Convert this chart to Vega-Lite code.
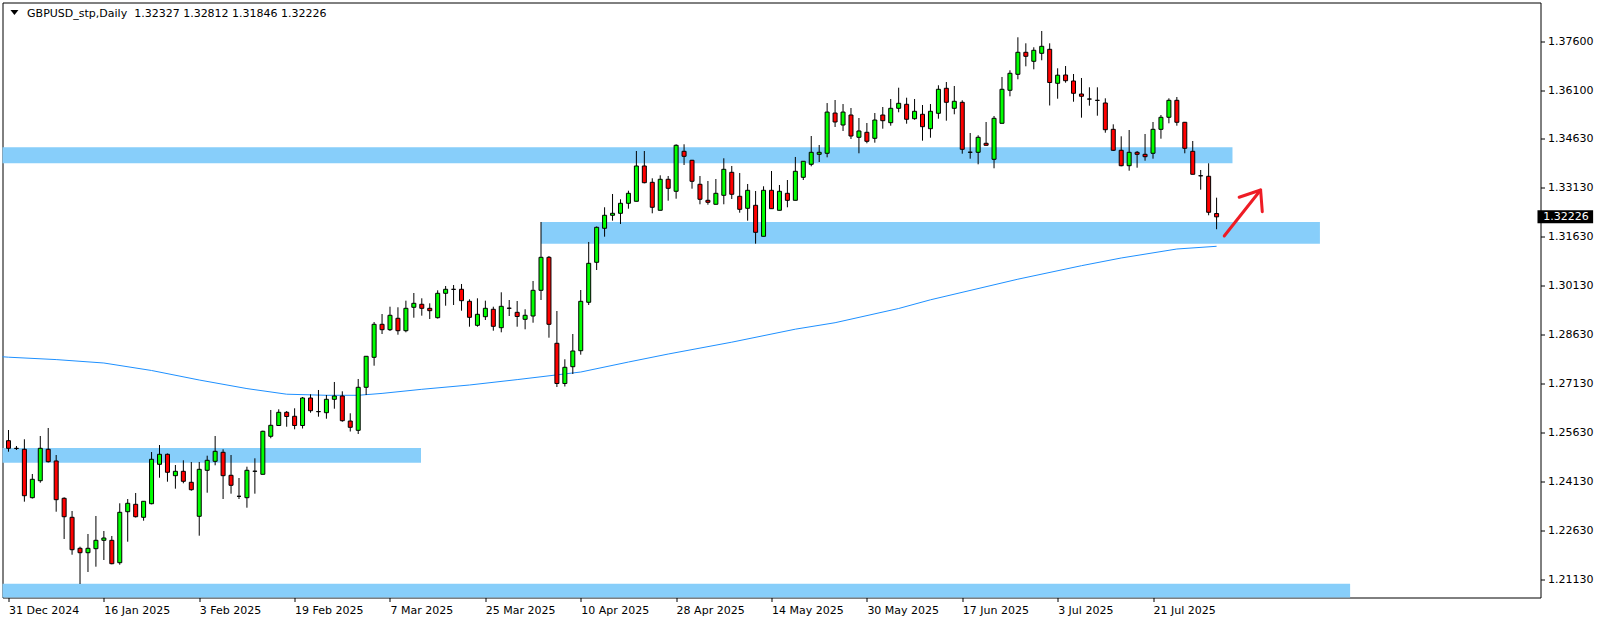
{
"$schema":"https://vega.github.io/schema/vega-lite/v6.json",
"width":1538,"height":595,
"autosize":{"type":"none"},
"padding":{"left":2.5,"top":2.5,"right":63.5,"bottom":24.5},
"background":"white",
"config":{"view":{"stroke":"#000","strokeWidth":1},"axis":{"domain":false,"grid":false,"tickColor":"#000","tickSize":4,"labelFont":"DejaVu Sans","labelFontSize":11,"labelColor":"#000","title":null}},
"datasets":{
"header":[{"t":"GBPUSD_stp,Daily\u00a0 1.32327 1.32812 1.31846 1.32226"}],
"zones":[
{"name":"resistance","i0":-1,"i1":154.0,"p0":1.34354,"p1":1.33865},
{"name":"support","i0":67,"i1":165,"p0":1.32068,"p1":1.31404},
{"name":"old range","i0":-1,"i1":51.9,"p0":1.25149,"p1":1.24699},
{"name":"low","i0":-1,"i1":168.8,"p0":1.20995,"p1":1.2040}
],
"ma":[
{"i":-1,"v":1.27947},{"i":0,"v":1.27929},{"i":6,"v":1.27856},{"i":12,"v":1.27751},{"i":18,"v":1.27522},{"i":24,"v":1.27231},{"i":30,"v":1.26968},{"i":35,"v":1.26796},{"i":40,"v":1.26763},{"i":44,"v":1.26763},{"i":47,"v":1.26821},{"i":52,"v":1.26946},{"i":58,"v":1.27078},{"i":64,"v":1.27243},{"i":72,"v":1.27475},{"i":78,"v":1.27781},{"i":83,"v":1.28026},{"i":91,"v":1.28389},{"i":99,"v":1.28787},{"i":104,"v":1.28985},{"i":112,"v":1.29420},{"i":116,"v":1.29686},{"i":127,"v":1.30317},{"i":135,"v":1.30730},{"i":140,"v":1.30966},{"i":147,"v":1.31241},{"i":152,"v":1.31324}
],
"arrow":[
{"seg":"shaft","k":0,"i":152.96,"p":1.31639},{"seg":"shaft","k":1,"i":157.54,"p":1.33047},
{"seg":"head","k":0,"i":154.84,"p":1.32824},{"seg":"head","k":1,"i":157.54,"p":1.33047},{"seg":"head","k":2,"i":157.75,"p":1.32383}
],
"bars":[
{"i":0,"d":"2024-12-31","o":1.25373,"h":1.25700,"l":1.25036,"c":1.25140},
{"i":1,"d":"2025-01-01","o":1.25140,"h":1.25211,"l":1.25088,"c":1.25135},
{"i":2,"d":"2025-01-02","o":1.25110,"h":1.25416,"l":1.23506,"c":1.23689},
{"i":3,"d":"2025-01-03","o":1.23628,"h":1.24354,"l":1.23604,"c":1.24191},
{"i":4,"d":"2025-01-06","o":1.24148,"h":1.25517,"l":1.24087,"c":1.25140},
{"i":5,"d":"2025-01-07","o":1.25110,"h":1.25762,"l":1.24706,"c":1.24730},
{"i":6,"d":"2025-01-08","o":1.24752,"h":1.24935,"l":1.23199,"c":1.23567},
{"i":7,"d":"2025-01-09","o":1.23610,"h":1.23640,"l":1.22364,"c":1.23046},
{"i":8,"d":"2025-01-10","o":1.23028,"h":1.23221,"l":1.21883,"c":1.22036},
{"i":9,"d":"2025-01-13","o":1.22079,"h":1.22128,"l":1.20986,"c":1.21944},
{"i":10,"d":"2025-01-14","o":1.21944,"h":1.22517,"l":1.21354,"c":1.22079},
{"i":11,"d":"2025-01-15","o":1.22067,"h":1.23068,"l":1.21516,"c":1.22324},
{"i":12,"d":"2025-01-16","o":1.22324,"h":1.22609,"l":1.21721,"c":1.22394},
{"i":13,"d":"2025-01-17","o":1.22324,"h":1.22456,"l":1.21589,"c":1.21608},
{"i":14,"d":"2025-01-20","o":1.21638,"h":1.23457,"l":1.21577,"c":1.23181},
{"i":15,"d":"2025-01-21","o":1.23199,"h":1.23588,"l":1.22281,"c":1.23457},
{"i":16,"d":"2025-01-22","o":1.23426,"h":1.23772,"l":1.23022,"c":1.23046},
{"i":17,"d":"2025-01-23","o":1.23028,"h":1.23527,"l":1.22924,"c":1.23518},
{"i":18,"d":"2025-01-24","o":1.23444,"h":1.25027,"l":1.23426,"c":1.24804},
{"i":19,"d":"2025-01-27","o":1.24650,"h":1.25241,"l":1.24240,"c":1.24957},
{"i":20,"d":"2025-01-28","o":1.24957,"h":1.24981,"l":1.24118,"c":1.24406},
{"i":21,"d":"2025-01-29","o":1.24302,"h":1.24629,"l":1.23904,"c":1.24436},
{"i":22,"d":"2025-01-30","o":1.24436,"h":1.24773,"l":1.24069,"c":1.24130},
{"i":23,"d":"2025-01-31","o":1.24100,"h":1.24721,"l":1.23842,"c":1.23873},
{"i":24,"d":"2025-02-03","o":1.23059,"h":1.24721,"l":1.22465,"c":1.24497},
{"i":25,"d":"2025-02-04","o":1.24467,"h":1.24914,"l":1.23781,"c":1.24773},
{"i":26,"d":"2025-02-05","o":1.24742,"h":1.25517,"l":1.24620,"c":1.25048},
{"i":27,"d":"2025-02-06","o":1.25018,"h":1.25110,"l":1.23588,"c":1.24302},
{"i":28,"d":"2025-02-07","o":1.24314,"h":1.24935,"l":1.23751,"c":1.24008},
{"i":29,"d":"2025-02-10","o":1.23671,"h":1.24231,"l":1.23588,"c":1.23671},
{"i":30,"d":"2025-02-11","o":1.23628,"h":1.24577,"l":1.23322,"c":1.24467},
{"i":31,"d":"2025-02-12","o":1.24436,"h":1.24834,"l":1.23751,"c":1.24440},
{"i":32,"d":"2025-02-13","o":1.24344,"h":1.25679,"l":1.24344,"c":1.25661},
{"i":33,"d":"2025-02-14","o":1.25508,"h":1.26313,"l":1.25447,"c":1.25844},
{"i":34,"d":"2025-02-17","o":1.25838,"h":1.26334,"l":1.25823,"c":1.26242},
{"i":35,"d":"2025-02-18","o":1.26242,"h":1.26282,"l":1.25801,"c":1.26114},
{"i":36,"d":"2025-02-19","o":1.26120,"h":1.26365,"l":1.25722,"c":1.25838},
{"i":37,"d":"2025-02-20","o":1.25838,"h":1.26711,"l":1.25746,"c":1.26680},
{"i":38,"d":"2025-02-21","o":1.26680,"h":1.26793,"l":1.26230,"c":1.26291},
{"i":39,"d":"2025-02-24","o":1.26261,"h":1.26925,"l":1.26108,"c":1.26265},
{"i":40,"d":"2025-02-25","o":1.26230,"h":1.26772,"l":1.26046,"c":1.26640},
{"i":41,"d":"2025-02-26","o":1.26640,"h":1.27170,"l":1.26352,"c":1.26741},
{"i":42,"d":"2025-02-27","o":1.26741,"h":1.26885,"l":1.25954,"c":1.25985},
{"i":43,"d":"2025-02-28","o":1.25975,"h":1.26212,"l":1.25655,"c":1.25783},
{"i":44,"d":"2025-03-03","o":1.25691,"h":1.27262,"l":1.25578,"c":1.27008},
{"i":45,"d":"2025-03-04","o":1.27008,"h":1.27966,"l":1.26772,"c":1.27957},
{"i":46,"d":"2025-03-05","o":1.27926,"h":1.29006,"l":1.27669,"c":1.28936},
{"i":47,"d":"2025-03-06","o":1.28936,"h":1.29251,"l":1.28639,"c":1.28771},
{"i":48,"d":"2025-03-07","o":1.28771,"h":1.29475,"l":1.28731,"c":1.29212},
{"i":49,"d":"2025-03-10","o":1.29120,"h":1.29457,"l":1.28618,"c":1.28740},
{"i":50,"d":"2025-03-11","o":1.28740,"h":1.29659,"l":1.28691,"c":1.29426},
{"i":51,"d":"2025-03-12","o":1.29457,"h":1.29894,"l":1.29138,"c":1.29579},
{"i":52,"d":"2025-03-13","o":1.29549,"h":1.29732,"l":1.29200,"c":1.29426},
{"i":53,"d":"2025-03-14","o":1.29426,"h":1.29579,"l":1.29098,"c":1.29353},
{"i":54,"d":"2025-03-17","o":1.29138,"h":1.29977,"l":1.29114,"c":1.29885},
{"i":55,"d":"2025-03-18","o":1.29885,"h":1.30109,"l":1.29505,"c":1.30008},
{"i":56,"d":"2025-03-19","o":1.30008,"h":1.30139,"l":1.29527,"c":1.30005},
{"i":57,"d":"2025-03-20","o":1.30008,"h":1.30170,"l":1.29353,"c":1.29659},
{"i":58,"d":"2025-03-21","o":1.29640,"h":1.29701,"l":1.28863,"c":1.29150},
{"i":59,"d":"2025-03-24","o":1.28905,"h":1.29732,"l":1.28863,"c":1.29242},
{"i":60,"d":"2025-03-25","o":1.29169,"h":1.29659,"l":1.29068,"c":1.29426},
{"i":61,"d":"2025-03-26","o":1.29396,"h":1.29475,"l":1.28740,"c":1.28875},
{"i":62,"d":"2025-03-27","o":1.28832,"h":1.29916,"l":1.28691,"c":1.29487},
{"i":63,"d":"2025-03-28","o":1.29426,"h":1.29680,"l":1.29190,"c":1.29430},
{"i":64,"d":"2025-03-31","o":1.29303,"h":1.29649,"l":1.28863,"c":1.29175},
{"i":65,"d":"2025-04-01","o":1.29089,"h":1.29396,"l":1.28783,"c":1.29212},
{"i":66,"d":"2025-04-02","o":1.29190,"h":1.30262,"l":1.28985,"c":1.29977},
{"i":67,"d":"2025-04-03","o":1.29977,"h":1.32068,"l":1.29680,"c":1.30987},
{"i":68,"d":"2025-04-04","o":1.30987,"h":1.31027,"l":1.28526,"c":1.28936},
{"i":69,"d":"2025-04-07","o":1.28355,"h":1.29343,"l":1.27017,"c":1.27124},
{"i":70,"d":"2025-04-08","o":1.27124,"h":1.27865,"l":1.27032,"c":1.27620},
{"i":71,"d":"2025-04-09","o":1.27638,"h":1.28639,"l":1.27415,"c":1.28119},
{"i":72,"d":"2025-04-10","o":1.28128,"h":1.29986,"l":1.28006,"c":1.29640},
{"i":73,"d":"2025-04-11","o":1.29610,"h":1.31456,"l":1.29527,"c":1.30803},
{"i":74,"d":"2025-04-14","o":1.30834,"h":1.31930,"l":1.30598,"c":1.31905},
{"i":75,"d":"2025-04-15","o":1.31875,"h":1.32518,"l":1.31618,"c":1.32273},
{"i":76,"d":"2025-04-16","o":1.32273,"h":1.32925,"l":1.32108,"c":1.32334},
{"i":77,"d":"2025-04-17","o":1.32334,"h":1.32763,"l":1.32007,"c":1.32640},
{"i":78,"d":"2025-04-18","o":1.32640,"h":1.33026,"l":1.32475,"c":1.32946},
{"i":79,"d":"2025-04-21","o":1.32701,"h":1.34241,"l":1.32701,"c":1.33782},
{"i":80,"d":"2025-04-22","o":1.33782,"h":1.34241,"l":1.33252,"c":1.33271},
{"i":81,"d":"2025-04-23","o":1.33283,"h":1.33406,"l":1.32334,"c":1.32518},
{"i":82,"d":"2025-04-24","o":1.32426,"h":1.33497,"l":1.32426,"c":1.33375},
{"i":83,"d":"2025-04-25","o":1.33375,"h":1.33476,"l":1.32720,"c":1.33099},
{"i":84,"d":"2025-04-28","o":1.33008,"h":1.34446,"l":1.32781,"c":1.34416},
{"i":85,"d":"2025-04-29","o":1.34232,"h":1.34446,"l":1.33813,"c":1.34079},
{"i":86,"d":"2025-04-30","o":1.33957,"h":1.33970,"l":1.33087,"c":1.33314},
{"i":87,"d":"2025-05-01","o":1.33222,"h":1.33476,"l":1.32610,"c":1.32763},
{"i":88,"d":"2025-05-02","o":1.32732,"h":1.33323,"l":1.32597,"c":1.32671},
{"i":89,"d":"2025-05-05","o":1.32610,"h":1.33384,"l":1.32610,"c":1.32946},
{"i":90,"d":"2025-05-06","o":1.32885,"h":1.34018,"l":1.32610,"c":1.33681},
{"i":91,"d":"2025-05-07","o":1.33589,"h":1.33782,"l":1.32772,"c":1.32916},
{"i":92,"d":"2025-05-08","o":1.32855,"h":1.33568,"l":1.32352,"c":1.32456},
{"i":93,"d":"2025-05-09","o":1.32487,"h":1.33231,"l":1.32108,"c":1.33038},
{"i":94,"d":"2025-05-12","o":1.32579,"h":1.33017,"l":1.31404,"c":1.31752},
{"i":95,"d":"2025-05-13","o":1.31630,"h":1.33161,"l":1.31630,"c":1.33038},
{"i":96,"d":"2025-05-14","o":1.33038,"h":1.33629,"l":1.32475,"c":1.32475},
{"i":97,"d":"2025-05-15","o":1.32426,"h":1.33200,"l":1.32426,"c":1.33008},
{"i":98,"d":"2025-05-16","o":1.32946,"h":1.33353,"l":1.32518,"c":1.32732},
{"i":99,"d":"2025-05-19","o":1.32732,"h":1.34058,"l":1.32732,"c":1.33620},
{"i":100,"d":"2025-05-20","o":1.33436,"h":1.33935,"l":1.33353,"c":1.33926},
{"i":101,"d":"2025-05-21","o":1.33834,"h":1.34700,"l":1.33773,"c":1.34201},
{"i":102,"d":"2025-05-22","o":1.34140,"h":1.34425,"l":1.33904,"c":1.34201},
{"i":103,"d":"2025-05-23","o":1.34171,"h":1.35709,"l":1.34048,"c":1.35433},
{"i":104,"d":"2025-05-26","o":1.35403,"h":1.35802,"l":1.34976,"c":1.35129},
{"i":105,"d":"2025-05-27","o":1.35037,"h":1.35679,"l":1.34854,"c":1.35433},
{"i":106,"d":"2025-05-28","o":1.35343,"h":1.35557,"l":1.34609,"c":1.34700},
{"i":107,"d":"2025-05-29","o":1.34661,"h":1.35251,"l":1.34171,"c":1.34854},
{"i":108,"d":"2025-05-30","o":1.34814,"h":1.35098,"l":1.34477,"c":1.34538},
{"i":109,"d":"2025-06-02","o":1.34630,"h":1.35404,"l":1.34496,"c":1.35190},
{"i":110,"d":"2025-06-03","o":1.35343,"h":1.35588,"l":1.34924,"c":1.35169},
{"i":111,"d":"2025-06-04","o":1.35108,"h":1.35833,"l":1.35016,"c":1.35548},
{"i":112,"d":"2025-06-05","o":1.35548,"h":1.36179,"l":1.35426,"c":1.35701},
{"i":113,"d":"2025-06-06","o":1.35671,"h":1.35873,"l":1.35077,"c":1.35212},
{"i":114,"d":"2025-06-09","o":1.35230,"h":1.35833,"l":1.35199,"c":1.35457},
{"i":115,"d":"2025-06-10","o":1.35365,"h":1.35649,"l":1.34557,"c":1.34985},
{"i":116,"d":"2025-06-11","o":1.34924,"h":1.35679,"l":1.34648,"c":1.35457},
{"i":117,"d":"2025-06-12","o":1.35395,"h":1.36253,"l":1.35230,"c":1.36130},
{"i":118,"d":"2025-06-13","o":1.36161,"h":1.36353,"l":1.35169,"c":1.35732},
{"i":119,"d":"2025-06-16","o":1.35548,"h":1.36231,"l":1.35365,"c":1.35763},
{"i":120,"d":"2025-06-17","o":1.35732,"h":1.35793,"l":1.34159,"c":1.34293},
{"i":121,"d":"2025-06-18","o":1.34201,"h":1.34792,"l":1.34006,"c":1.34205},
{"i":122,"d":"2025-06-19","o":1.34201,"h":1.34722,"l":1.33834,"c":1.34661},
{"i":123,"d":"2025-06-20","o":1.34477,"h":1.35129,"l":1.34405,"c":1.34416},
{"i":124,"d":"2025-06-23","o":1.33987,"h":1.35313,"l":1.33712,"c":1.35242},
{"i":125,"d":"2025-06-24","o":1.35089,"h":1.36507,"l":1.35089,"c":1.36130},
{"i":126,"d":"2025-06-25","o":1.36100,"h":1.36712,"l":1.35916,"c":1.36620},
{"i":127,"d":"2025-06-26","o":1.36589,"h":1.37722,"l":1.36436,"c":1.37263},
{"i":128,"d":"2025-06-27","o":1.37263,"h":1.37538,"l":1.36834,"c":1.37140},
{"i":129,"d":"2025-06-30","o":1.36987,"h":1.37416,"l":1.36742,"c":1.37324},
{"i":130,"d":"2025-07-01","o":1.37232,"h":1.37915,"l":1.37018,"c":1.37446},
{"i":131,"d":"2025-07-02","o":1.37354,"h":1.37538,"l":1.35634,"c":1.36338},
{"i":132,"d":"2025-07-03","o":1.36314,"h":1.36773,"l":1.35842,"c":1.36562},
{"i":133,"d":"2025-07-04","o":1.36568,"h":1.36843,"l":1.36332,"c":1.36393},
{"i":134,"d":"2025-07-07","o":1.36384,"h":1.36598,"l":1.35750,"c":1.36008},
{"i":135,"d":"2025-07-08","o":1.35986,"h":1.36476,"l":1.35261,"c":1.35916},
{"i":136,"d":"2025-07-09","o":1.35833,"h":1.36191,"l":1.35628,"c":1.35830},
{"i":137,"d":"2025-07-10","o":1.35793,"h":1.36191,"l":1.35322,"c":1.35790},
{"i":138,"d":"2025-07-11","o":1.35711,"h":1.35854,"l":1.34801,"c":1.34893},
{"i":139,"d":"2025-07-14","o":1.34905,"h":1.35058,"l":1.34241,"c":1.34263},
{"i":140,"d":"2025-07-15","o":1.34263,"h":1.34691,"l":1.33773,"c":1.33791},
{"i":141,"d":"2025-07-16","o":1.33791,"h":1.34884,"l":1.33638,"c":1.34201},
{"i":142,"d":"2025-07-17","o":1.34201,"h":1.34241,"l":1.33730,"c":1.34140},
{"i":143,"d":"2025-07-18","o":1.34140,"h":1.34762,"l":1.33944,"c":1.34067},
{"i":144,"d":"2025-07-21","o":1.34171,"h":1.35129,"l":1.34006,"c":1.34905},
{"i":145,"d":"2025-07-22","o":1.34905,"h":1.35343,"l":1.34618,"c":1.35273},
{"i":146,"d":"2025-07-23","o":1.35273,"h":1.35854,"l":1.35089,"c":1.35793},
{"i":147,"d":"2025-07-24","o":1.35793,"h":1.35894,"l":1.35016,"c":1.35120},
{"i":148,"d":"2025-07-25","o":1.35120,"h":1.35130,"l":1.34171,"c":1.34324},
{"i":149,"d":"2025-07-28","o":1.34232,"h":1.34547,"l":1.33528,"c":1.33528},
{"i":150,"d":"2025-07-29","o":1.33485,"h":1.33660,"l":1.33057,"c":1.33480},
{"i":151,"d":"2025-07-30","o":1.33467,"h":1.33865,"l":1.32273,"c":1.32365},
{"i":152,"d":"2025-07-31","o":1.32327,"h":1.32812,"l":1.31846,"c":1.32226}
]},
"layer":[
{"data":{"name":"zones"},"mark":{"type":"rect","color":"#87cefa","clip":true},
 "encoding":{
  "x":{"field":"i0","type":"quantitative","title":null,"scale":{"domain":[-0.125,192.125],"nice":false,"zero":false},
       "axis":{"orient":"bottom","values":[0,12,24,36,48,60,72,84,96,108,120,132,144],
        "labelExpr":"['31 Dec 2024','16 Jan 2025','3 Feb 2025','19 Feb 2025','7 Mar 2025','25 Mar 2025','10 Apr 2025','28 Apr 2025','14 May 2025','30 May 2025','17 Jun 2025','3 Jul 2025','21 Jul 2025'][round(datum.value/12)]",
        "labelAlign":"left","labelBaseline":"alphabetic","labelPadding":12,"labelFlush":false,"labelOverlap":false,"labelBound":false}},
  "x2":{"field":"i1"},
  "y":{"field":"p0","type":"quantitative","title":null,"scale":{"domain":[1.20573,1.38787],"nice":false,"zero":false},
       "axis":{"orient":"right","values":[1.2113,1.2263,1.2413,1.2563,1.2713,1.2863,1.3013,1.3163,1.3313,1.3463,1.361,1.376],"format":".5f",
        "labelAlign":"left","labelBaseline":"middle","labelPadding":3,"labelFlush":false,"labelOverlap":false,"labelBound":false}},
  "y2":{"field":"p1"}}},
{"data":{"name":"ma"},"mark":{"type":"line","color":"#1e90ff","strokeWidth":1,"clip":true},
 "encoding":{"x":{"field":"i","type":"quantitative","title":null},"y":{"field":"v","type":"quantitative","title":null}}},
{"data":{"name":"bars"},"mark":{"type":"rule","color":"#000","strokeWidth":1},
 "encoding":{"x":{"field":"i","type":"quantitative","title":null},"y":{"field":"l","type":"quantitative","title":null},"y2":{"field":"h"}}},
{"data":{"name":"bars"},"mark":{"type":"bar","orient":"vertical","width":4,"stroke":"#000","strokeWidth":1},
 "encoding":{"x":{"field":"i","type":"quantitative","title":null},"y":{"field":"o","type":"quantitative","title":null},"y2":{"field":"c"},
  "fill":{"condition":{"test":"datum.c >= datum.o","value":"#00ff00"},"value":"#ff0000"}}},
{"data":{"name":"arrow"},"mark":{"type":"line","color":"#ee1c25","strokeWidth":3,"strokeCap":"round","strokeJoin":"round"},
 "encoding":{"x":{"field":"i","type":"quantitative","title":null},"y":{"field":"p","type":"quantitative","title":null},"detail":{"field":"seg"},"order":{"field":"k"}}},
{"data":{"name":"bars"},"transform":[{"filter":"datum.i == 152"}],"mark":{"type":"rule","color":"#000","strokeWidth":13,"strokeCap":"butt"},
 "encoding":{"x":{"datum":192.375,"type":"quantitative"},"x2":{"datum":199.375},"y":{"field":"c","type":"quantitative","title":null}}},
{"data":{"name":"bars"},"transform":[{"filter":"datum.i == 152"}],"mark":{"type":"text","color":"#fff","align":"left","baseline":"middle","font":"DejaVu Sans","fontSize":11},
 "encoding":{"x":{"datum":193.1,"type":"quantitative"},"y":{"field":"c","type":"quantitative","title":null},"text":{"field":"c","type":"quantitative","format":".5f"}}},
{"data":{"name":"header"},"mark":{"type":"point","shape":"M-1,-0.6L1,-0.6L0,0.6Z","size":64,"filled":true,"color":"#000","opacity":1},
 "encoding":{"x":{"datum":0.75,"type":"quantitative"},"y":{"datum":1.38481,"type":"quantitative"}}},
{"data":{"name":"header"},"mark":{"type":"text","align":"left","baseline":"alphabetic","font":"DejaVu Sans","fontSize":11,"color":"#000"},
 "encoding":{"x":{"datum":2.34,"type":"quantitative"},"y":{"datum":1.38334,"type":"quantitative"},"text":{"field":"t"}}}
]
}
